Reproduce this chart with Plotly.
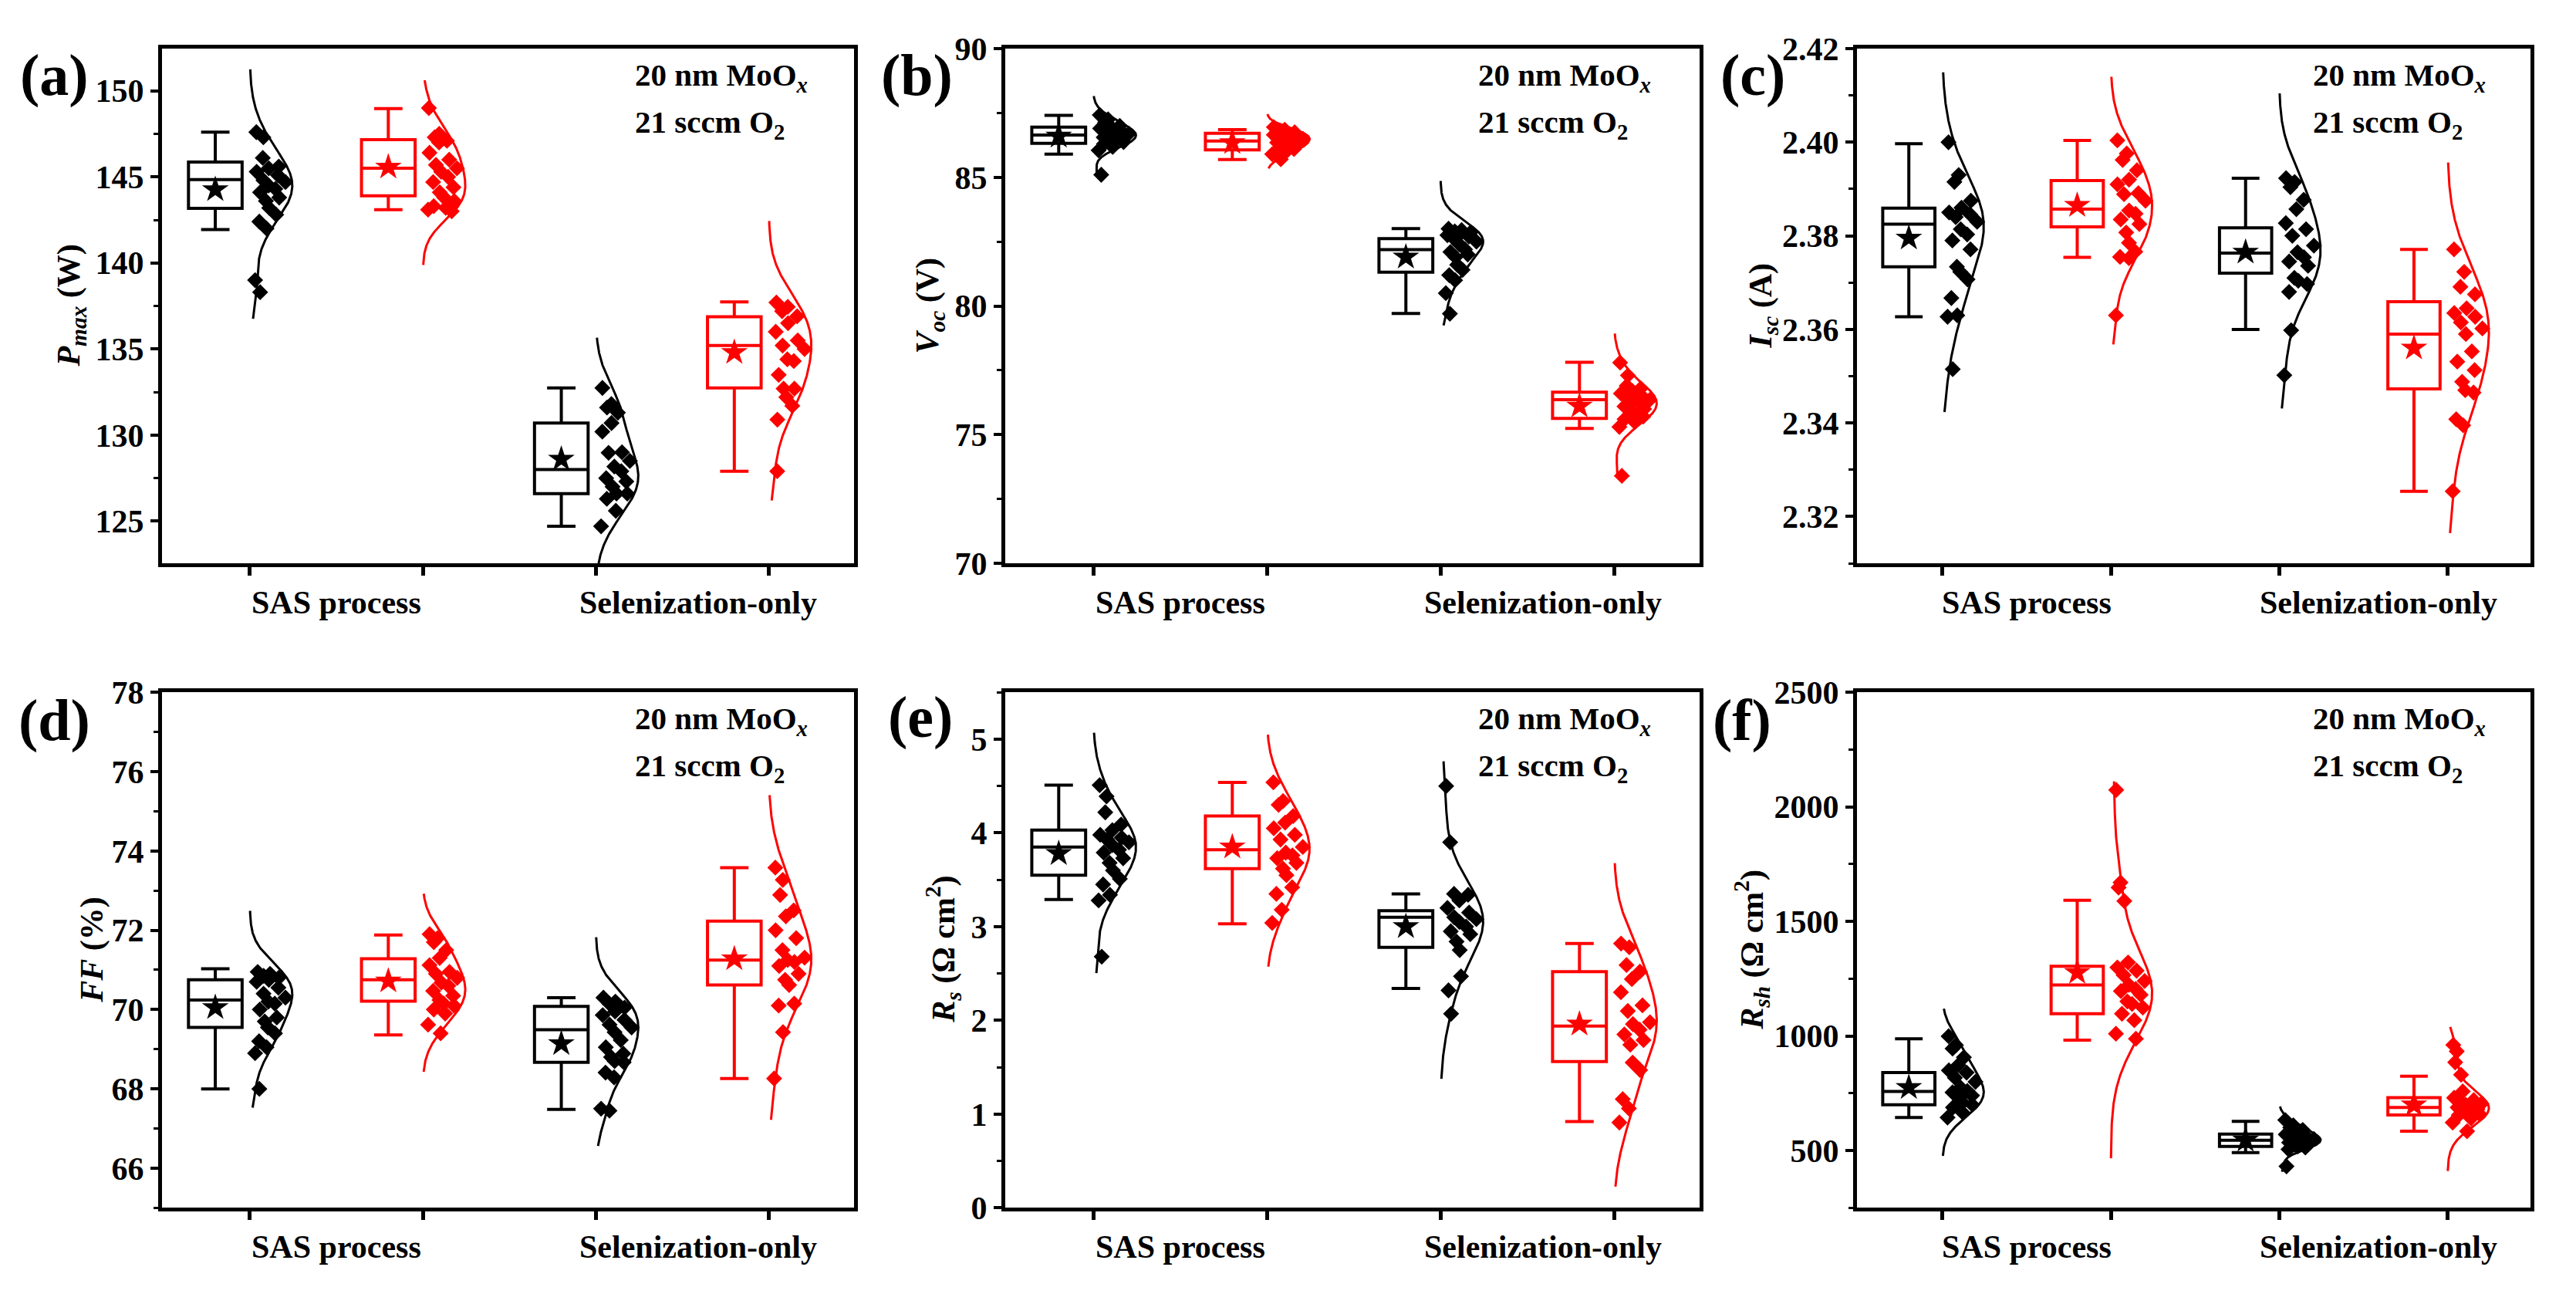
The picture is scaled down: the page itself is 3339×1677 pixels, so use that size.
import numpy as np
import plotly.graph_objects as go

FONT = "Liberation Serif"

categories = ["SAS process", "Selenization-only"]
group_positions = [1, 2, 3, 4]          # SAS black, SAS red, Sel black, Sel red
group_colors = ["#000000", "#ff0000", "#000000", "#ff0000"]
panel_letters = ["(a)", "(b)", "(c)", "(d)", "(e)", "(f)"]
note_line1 = "20 nm MoO<sub><i>x</i></sub>"
note_line2 = "21 sccm O<sub>2</sub>"

# ---------------- (a) Pmax (W)
pmax_sas_black = [147.6, 147.3, 146.1, 145.6, 145.5, 145.3, 145.1, 144.8, 144.7, 144.5,
                  144.3, 144.1, 143.8, 143.6, 143.2, 142.8, 142.4, 142.0, 139.0, 138.3]
pmax_sas_red = [149.0, 147.5, 147.3, 147.1, 147.0, 146.4, 146.0, 145.7, 145.5, 145.3,
                145.0, 144.7, 144.4, 144.1, 143.8, 143.6, 143.3, 143.2, 143.1, 143.0]
pmax_sel_black = [132.74, 131.8, 131.6, 131.3, 130.7, 130.2, 129.0, 128.97, 128.5, 128.17,
                  127.9, 127.5, 127.3, 127.0, 126.6, 126.6, 126.3, 125.6, 124.7]
pmax_sel_red = [137.7, 137.45, 137.2, 136.9, 136.5, 136.0, 135.5, 135.2, 135.0, 134.4,
                134.3, 133.5, 132.7, 132.7, 132.2, 131.7, 130.9, 127.9]
pmax_q1 = [143.17, 143.9, 126.6, 132.74]
pmax_median = [144.84, 145.5, 128.0, 135.2]
pmax_q3 = [145.86, 147.16, 130.7, 136.87]
pmax_low = [141.94, 143.1, 124.7, 127.9]
pmax_high = [147.6, 148.97, 132.74, 137.74]
pmax_mean = [144.26, 145.57, 128.6, 134.8]

# ---------------- (b) Voc (V)
voc_sas_black = [87.42, 87.25, 87.13, 87.0, 86.95, 86.9, 86.8, 86.75, 86.7, 86.65,
                 86.6, 86.55, 86.5, 86.47, 86.4, 86.37, 86.3, 86.18, 86.05, 85.1]
voc_sas_red = [86.95, 86.85, 86.8, 86.75, 86.7, 86.65, 86.6, 86.55, 86.5, 86.45,
               86.4, 86.35, 86.3, 86.25, 86.2, 86.1, 86.05, 86.0, 85.9, 85.7]
voc_sel_black = [83.0, 82.95, 82.9, 82.85, 82.8, 82.75, 82.7, 82.6, 82.5, 82.4,
                 82.2, 82.1, 82.0, 81.9, 81.6, 81.4, 81.2, 81.0, 80.5, 79.7]
voc_sel_red = [77.8, 77.3, 76.9, 76.8, 76.7, 76.6, 76.5, 76.4, 76.35, 76.3,
               76.2, 76.1, 76.0, 75.9, 75.8, 75.7, 75.6, 75.5, 75.3, 73.4]
voc_q1 = [86.32, 86.07, 81.31, 75.63]
voc_median = [86.64, 86.41, 82.19, 76.36]
voc_q3 = [86.95, 86.71, 82.62, 76.65]
voc_low = [85.9, 85.69, 79.71, 75.24]
voc_high = [87.41, 86.85, 83.01, 77.81]
voc_mean = [86.6, 86.35, 81.9, 76.11]

# ---------------- (c) Isc (A)
isc_sas_black = [2.400, 2.393, 2.3915, 2.3875, 2.386, 2.385, 2.3846, 2.384, 2.383, 2.3814,
                 2.3803, 2.379, 2.3771, 2.3734, 2.3723, 2.3707, 2.3667, 2.363, 2.3627, 2.3515]
isc_sas_red = [2.4004, 2.3976, 2.3962, 2.394, 2.392, 2.391, 2.3891, 2.3889, 2.3875, 2.3854,
               2.3847, 2.3835, 2.3825, 2.3807, 2.3785, 2.3766, 2.3752, 2.3755, 2.363]
isc_sel_black = [2.3923, 2.3915, 2.3904, 2.3877, 2.3857, 2.3827, 2.3814, 2.380, 2.3779, 2.3765,
                 2.3754, 2.3745, 2.3736, 2.371, 2.3704, 2.3697, 2.368, 2.3598, 2.3502]
isc_sel_red = [2.3771, 2.3723, 2.3691, 2.3675, 2.3645, 2.3635, 2.3627, 2.3615, 2.3602, 2.359,
               2.3553, 2.3531, 2.3513, 2.3488, 2.347, 2.3465, 2.3408, 2.3395, 2.3254]
isc_q1 = [2.3734, 2.3819, 2.3720, 2.3473]
isc_median = [2.3825, 2.3857, 2.3763, 2.3590]
isc_q3 = [2.3859, 2.3918, 2.3817, 2.3659]
isc_low = [2.3627, 2.3754, 2.3600, 2.3254]
isc_high = [2.3997, 2.4004, 2.3923, 2.3771]
isc_mean = [2.3795, 2.3865, 2.3765, 2.3560]

# ---------------- (d) FF (%)
ff_sas_black = [70.95, 70.9, 70.85, 70.8, 70.75, 70.7, 70.55, 70.4, 70.3, 70.2,
                70.15, 70.0, 69.8, 69.7, 69.55, 69.4, 69.2, 69.05, 68.9, 68.0]
ff_sas_red = [71.9, 71.8, 71.7, 71.5, 71.3, 71.12, 70.95, 70.9, 70.8, 70.68,
              70.6, 70.47, 70.35, 70.24, 70.15, 70.1, 70.0, 69.9, 69.62, 69.4]
ff_sel_black = [70.3, 70.2, 70.15, 70.05, 69.95, 69.86, 69.74, 69.62, 69.55, 69.43,
                69.23, 69.05, 68.89, 68.8, 68.7, 68.67, 68.41, 68.29, 67.5, 67.45]
ff_sel_red = [73.58, 73.27, 72.89, 72.5, 72.35, 72.0, 71.8, 71.5, 71.31, 71.25,
              71.2, 71.1, 70.9, 70.75, 70.62, 70.15, 70.1, 69.43, 68.26]
ff_q1 = [69.55, 70.21, 68.67, 70.62]
ff_median = [70.24, 70.75, 69.49, 71.25]
ff_q3 = [70.75, 71.28, 70.08, 72.23]
ff_low = [68.0, 69.36, 67.48, 68.26]
ff_high = [71.03, 71.88, 70.3, 73.58]
ff_mean = [70.05, 70.72, 69.14, 71.28]

# ---------------- (e) Rs (Ohm cm2)
rs_sas_black = [4.51, 4.39, 4.22, 4.09, 4.03, 3.98, 3.95, 3.93, 3.9, 3.87,
                3.82, 3.79, 3.73, 3.68, 3.6, 3.51, 3.45, 3.34, 3.28, 2.68]
rs_sas_red = [4.54, 4.34, 4.3, 4.18, 4.11, 4.05, 3.98, 3.93, 3.85, 3.79,
              3.76, 3.73, 3.68, 3.62, 3.55, 3.42, 3.35, 3.18, 3.04]
rs_sel_black = [4.5, 3.9, 3.35, 3.34, 3.28, 3.2, 3.15, 3.1, 3.08, 3.05,
                3.0, 2.95, 2.92, 2.84, 2.75, 2.47, 2.32, 2.07]
rs_sel_red = [2.82, 2.78, 2.59, 2.52, 2.44, 2.3, 2.16, 2.1, 1.98, 1.96,
              1.9, 1.85, 1.79, 1.74, 1.55, 1.47, 1.16, 1.06, 0.91]
rs_q1 = [3.55, 3.62, 2.78, 1.56]
rs_median = [3.85, 3.82, 3.1, 1.94]
rs_q3 = [4.03, 4.18, 3.17, 2.52]
rs_low = [3.29, 3.03, 2.34, 0.92]
rs_high = [4.51, 4.54, 3.35, 2.82]
rs_mean = [3.78, 3.85, 3.0, 1.96]

# ---------------- (f) Rsh (Ohm cm2)
rsh_sas_black = [999, 960, 945, 907, 873, 850, 840, 818, 800, 775,
                 760, 754, 740, 731, 709, 700, 688, 666, 644]
rsh_sas_red = [2074, 1670, 1648, 1589, 1321, 1299, 1285, 1266, 1240, 1223,
               1205, 1196, 1180, 1151, 1140, 1124, 1097, 1069, 1010, 988]
rsh_sel_black = [633, 610, 600, 590, 578, 570, 562, 556, 550, 545,
                 540, 535, 530, 525, 518, 513, 505, 431]
rsh_sel_red = [961, 933, 885, 831, 758, 730, 720, 712, 705, 700,
               695, 688, 680, 672, 666, 660, 655, 640, 622, 584]
rsh_q1 = [700, 1097, 518, 655]
rsh_median = [758, 1223, 545, 688]
rsh_q3 = [840, 1304, 572, 731]
rsh_low = [644, 982, 491, 584]
rsh_high = [988, 1592, 627, 824]
rsh_mean = [775, 1277, 545, 699]

y_titles = [
    "<b><i>P</i><sub><i>max</i></sub> (W)</b>",
    "<b><i>V</i><sub><i>oc</i></sub> (V)</b>",
    "<b><i>I</i><sub><i>sc</i></sub> (A)</b>",
    "<b><i>FF</i> (%)</b>",
    "<b><i>R</i><sub><i>s</i></sub> (\u03a9 cm<sup>2</sup>)</b>",
    "<b><i>R</i><sub><i>sh</i></sub> (\u03a9 cm<sup>2</sup>)</b>",
]
y_ranges = [[122.55, 152.45], [70, 90], [2.31, 2.42], [65, 78], [0, 5.5], [250, 2500]]
y_tick0 = [125, 70, 2.32, 66, 0, 500]
y_dtick = [5, 5, 0.02, 2, 1, 500]
y_minor = [2.5, 2.5, 0.01, 1, 0.5, 250]
y_fmt = ["", "", ".2f", "", "", ""]

panels = [
    dict(groups=[pmax_sas_black, pmax_sas_red, pmax_sel_black, pmax_sel_red],
         q1=pmax_q1, med=pmax_median, q3=pmax_q3, lo=pmax_low, hi=pmax_high, mean=pmax_mean),
    dict(groups=[voc_sas_black, voc_sas_red, voc_sel_black, voc_sel_red],
         q1=voc_q1, med=voc_median, q3=voc_q3, lo=voc_low, hi=voc_high, mean=voc_mean),
    dict(groups=[isc_sas_black, isc_sas_red, isc_sel_black, isc_sel_red],
         q1=isc_q1, med=isc_median, q3=isc_q3, lo=isc_low, hi=isc_high, mean=isc_mean),
    dict(groups=[ff_sas_black, ff_sas_red, ff_sel_black, ff_sel_red],
         q1=ff_q1, med=ff_median, q3=ff_q3, lo=ff_low, hi=ff_high, mean=ff_mean),
    dict(groups=[rs_sas_black, rs_sas_red, rs_sel_black, rs_sel_red],
         q1=rs_q1, med=rs_median, q3=rs_q3, lo=rs_low, hi=rs_high, mean=rs_mean),
    dict(groups=[rsh_sas_black, rsh_sas_red, rsh_sel_black, rsh_sel_red],
         q1=rsh_q1, med=rsh_median, q3=rsh_q3, lo=rsh_low, hi=rsh_high, mean=rsh_mean),
]

# ---------------- layout constants (pixels of the 3339 x 1677 page)
PAGE_W, PAGE_H = 3339, 1677
BODY = 8                      # default body margin of the html page
W, H = PAGE_W - 2 * BODY, PAGE_H - 2 * BODY


def fx(px):
    return (px - BODY) / W


def fy(py):
    return 1 - (py - BODY) / H


col_px = [(210, 1107), (1303, 2203), (2407, 3280)]
row_px = [(42, 728), (900, 1587)]
BOX_OFFSET = -0.2
BOX_WIDTH = 0.31
CURVE_W = 0.245
JITTER = [0.1, 0.55, 0.3, 0.8, 0.45, 0.05, 0.7, 0.25, 0.9, 0.4,
          0.6, 0.15, 0.75, 0.35, 0.5, 0.85, 0.2, 0.65, 0.0, 0.95]


def kde_curve(vals, n_sd=3.1, npts=300):
    v = np.asarray(vals, float)
    m, s = v.mean(), v.std(ddof=1)
    h = 1.2 * s * len(v) ** -0.2
    g = np.linspace(m - n_sd * s, m + n_sd * s, npts)
    d = np.exp(-0.5 * ((g[:, None] - v[None, :]) / h) ** 2).sum(axis=1)
    return g, d / d.max()


fig = go.Figure()
annotations = []
layout_axes = {}
tickfont = dict(family=FONT, size=42, color="black", weight="bold")

for k, p in enumerate(panels):
    r, c = divmod(k, 3)
    idx = "" if k == 0 else str(k + 1)
    xa, ya = "x" + idx, "y" + idx
    x0, x1 = col_px[c]
    y0, y1 = row_px[r]
    xdom = [fx(x0), fx(x1)]
    ydom = [fy(y1), fy(y0)]
    layout_axes["xaxis" + idx] = dict(
        domain=xdom, anchor=ya, range=[0.492, 4.492], type="linear",
        tickmode="array", tickvals=group_positions, showticklabels=False,
        ticks="outside", ticklen=11, tickwidth=5, tickcolor="black",
        showline=True, linewidth=5, linecolor="black", mirror=True,
        showgrid=False, zeroline=False, fixedrange=True)
    layout_axes["yaxis" + idx] = dict(
        domain=ydom, anchor=xa, range=y_ranges[k],
        tickmode="linear", tick0=y_tick0[k], dtick=y_dtick[k], tickformat=y_fmt[k],
        ticks="outside", ticklen=10, tickwidth=4, tickcolor="black",
        minor=dict(dtick=y_minor[k], tick0=y_tick0[k], ticks="outside", ticklen=6,
                   tickwidth=3, tickcolor="black", showgrid=False),
        tickfont=tickfont, showline=True, linewidth=5, linecolor="black",
        mirror=True, showgrid=False, zeroline=False, fixedrange=True)

    for gi, (pos, col, vals) in enumerate(zip(group_positions, group_colors, p["groups"])):
        # box
        fig.add_trace(go.Box(
            x=[pos + BOX_OFFSET], q1=[p["q1"][gi]], median=[p["med"][gi]], q3=[p["q3"][gi]],
            lowerfence=[p["lo"][gi]], upperfence=[p["hi"][gi]],
            width=BOX_WIDTH, whiskerwidth=0.53, boxpoints=False,
            line=dict(color=col, width=4), fillcolor="rgba(0,0,0,0)",
            xaxis=xa, yaxis=ya, hoverinfo="skip"))
        # mean star
        fig.add_trace(go.Scatter(
            x=[pos + BOX_OFFSET], y=[p["mean"][gi]], mode="markers",
            marker=dict(symbol="star", size=26, color=col, line=dict(width=0)),
            xaxis=xa, yaxis=ya, hoverinfo="skip"))
        # distribution curve
        g, d = kde_curve(vals)
        fig.add_trace(go.Scatter(
            x=pos + CURVE_W * d, y=g, mode="lines",
            line=dict(color=col, width=3), xaxis=xa, yaxis=ya, hoverinfo="skip"))
        # data points
        v = np.sort(np.asarray(vals, float))[::-1]
        wloc = np.interp(v, g, d) * CURVE_W
        jit = np.array([JITTER[i % len(JITTER)] for i in range(len(v))])
        px = pos + 0.03 + jit * 0.8 * wloc
        fig.add_trace(go.Scatter(
            x=px, y=v, mode="markers",
            marker=dict(symbol="diamond", size=16, color=col, line=dict(width=0)),
            xaxis=xa, yaxis=ya, hoverinfo="skip"))

    # category labels
    for cat, xc in zip(categories, [1.5, 3.59]):
        annotations.append(dict(
            text="<b>%s</b>" % cat, x=xc, y=-0.076, xref=xa, yref=ya + " domain",
            xanchor="center", yanchor="middle", showarrow=False,
            font=dict(family=FONT, size=42, color="black")))
    # note
    nx = [0.681, 0.679, 0.675][c]
    annotations.append(dict(
        text="<b>" + note_line1 + "</b>", x=nx, y=0.945, xref=xa + " domain", yref=ya + " domain",
        xanchor="left", yanchor="middle", showarrow=False,
        font=dict(family=FONT, size=41, color="black")))
    annotations.append(dict(
        text="<b>" + note_line2 + "</b>", x=nx, y=0.853, xref=xa + " domain", yref=ya + " domain",
        xanchor="left", yanchor="middle", showarrow=False,
        font=dict(family=FONT, size=41, color="black")))

# panel letters
letter_px = [(70, 77), (1188, 77), (2272, 77), (70, 937), (1193, 933), (2258, 937)]
for t, (lx, ly) in zip(panel_letters, letter_px):
    annotations.append(dict(
        text="<b>%s</b>" % t, x=fx(lx), y=fy(ly), xref="paper", yref="paper",
        xanchor="center", yanchor="middle", showarrow=False,
        font=dict(family=FONT, size=76, color="black")))

# y titles
ytitle_px = [(92, 385), (1205, 385), (2285, 385), (120, 1243), (1222, 1243), (2270, 1243)]
for t, (tx, ty) in zip(y_titles, ytitle_px):
    annotations.append(dict(
        text=t, x=fx(tx), y=fy(ty), xref="paper", yref="paper",
        xanchor="center", yanchor="middle", textangle=-90, showarrow=False,
        font=dict(family=FONT, size=42, color="black")))

fig.update_layout(
    width=W, height=H, margin=dict(l=0, r=0, t=0, b=0),
    paper_bgcolor="white", plot_bgcolor="white", showlegend=False,
    boxmode="overlay", annotations=annotations, **layout_axes)

fig.write_html("out.html")
